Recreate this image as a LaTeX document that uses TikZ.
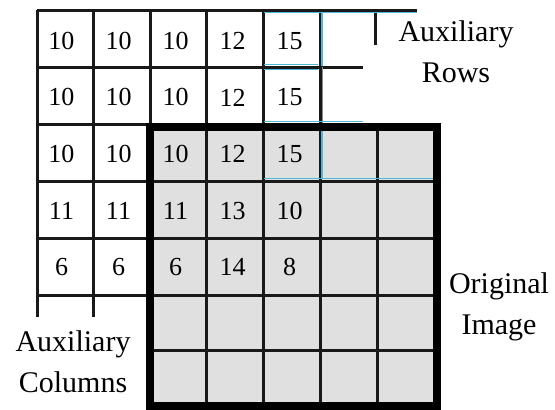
\documentclass[tikz,border=0pt]{standalone}
\usepackage{fontspec}
\setmainfont{Liberation Serif}
\usepackage{xcolor}
\usepackage{tikz}
\definecolor{cellgray}{HTML}{E0E0E0}
\definecolor{edgecyan}{HTML}{4FB8D8}

\begin{document}
\begin{tikzpicture}[
    x=1pt, y=-1pt,
    gridline/.style={line width=3pt, draw=black!90},
    frameline/.style={line width=8pt, draw=black},
    cyanline/.style={line width=1.2pt, draw=edgecyan},
    numcell/.style={font=\fontsize{26}{30}\selectfont, inner sep=0pt},
    auxlabel/.style={font=\fontsize{30}{41}\selectfont, align=center, inner sep=0pt}
]
\useasboundingbox (0,0) rectangle (555,410);

% Original image (gray block)
\fill[cellgray] (150,124) rectangle (437,406);
\foreach \x in {206,263,320,377}
  \draw[gridline] (\x,124) -- (\x,406);
\foreach \y in {181,238,295,350}
  \draw[gridline] (150,\y) -- (437,\y);

% Auxiliary columns
\foreach \x in {37,93}
  \draw[gridline] (\x,10) -- (\x,317);
\foreach \y in {124,181,238,295}
  \draw[gridline] (37,\y) -- (150,\y);

% Auxiliary rows
\foreach \y in {10,67}
  \draw[gridline] (37,\y) -- (320,\y);
\foreach \x in {150,206,263,320}
  \draw[gridline] (\x,10) -- (\x,124);
\draw[gridline] (320,10) -- (417,10);
\draw[gridline] (375,10) -- (375,45);
\draw[gridline] (322,67) -- (363,67);
\draw[line width=1pt, draw=black!45] (322,67) -- (322,124);

% cyan edges
\draw[cyanline] (264,12.5) -- (417,12.5);
\draw[cyanline] (264,64.5) -- (318,64.5);
\draw[cyanline] (264,69.5) -- (318,69.5);
\draw[cyanline] (264,121.5) -- (363,121.5);
\draw[cyanline] (322,12) -- (322,66);
\draw[cyanline] (264,178.5) -- (434,178.5);
\draw[cyanline] (322,130) -- (322,178);

% thick frame
\draw[frameline] (150,127) rectangle (437,406);

% pixel values
\foreach \vals [count=\r] in {{10,10,10,12,15},{10,10,10,12,15},{10,10,10,12,15},{11,11,11,13,10},{6,6,6,14,8}}
  \foreach \v [count=\c] in \vals
    \node[numcell] (v\r\c) at (37+57*\c-28.5-4, 10+56.6*\r-28.3+2.5) {\v};

% labels
\node[auxlabel] (auxrows) at (456,51.3) {Auxiliary\\Rows};
\node[auxlabel] (origimg) at (499,306.4) {Original\\Image};
\node[auxlabel] (auxcols) at (73,362) {Auxiliary\\Columns};

\end{tikzpicture}
\end{document}
